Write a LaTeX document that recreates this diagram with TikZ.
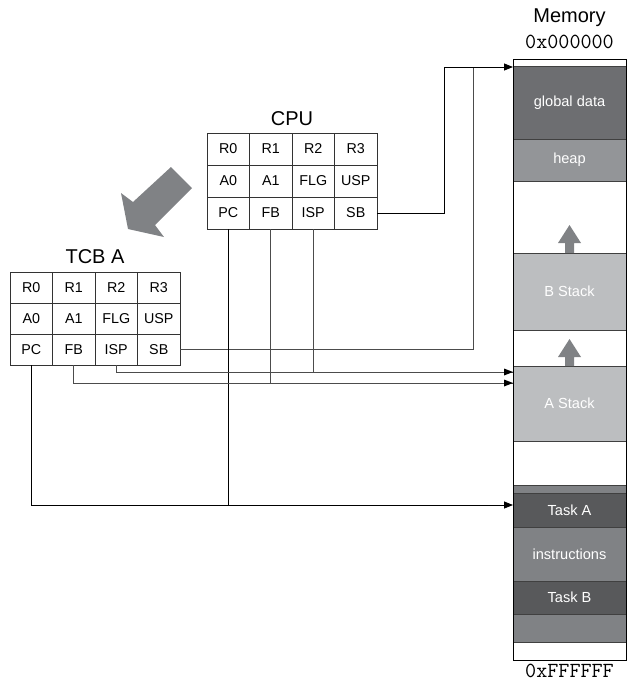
\documentclass[tikz,border=0pt]{standalone}
\usepackage{fontspec}
\setmainfont{Liberation Sans}
\usetikzlibrary{arrows.meta,calc}
\definecolor{gdark}{HTML}{58595B}
\definecolor{gglob}{HTML}{6D6E71}
\definecolor{gmid}{HTML}{808285}
\definecolor{gheap}{HTML}{939598}
\definecolor{glight}{HTML}{BCBEC0}
\begin{document}
\begin{tikzpicture}[x=1pt,y=-1pt,
  cell/.style={draw=black!80, line width=0.7pt, minimum width=42.5pt, minimum height=32pt, inner sep=0pt, font=\fontsize{14.3}{16}\selectfont},
  tcell/.style={cell, minimum height=31pt},
  title/.style={font=\fontsize{20}{22}\selectfont},
  addr/.style={font=\ttfamily\fontsize{21.5}{23}\selectfont},
  memblk/.style={draw=black!75, line width=0.6pt, minimum width=113pt, inner sep=0pt, text=white, font=\fontsize{14.6}{16}\selectfont},
  conn/.style={line width=0.8pt, black},
  gconn/.style={line width=0.8pt, black!70},
  arr/.style={-{Triangle[length=9pt,width=7pt]}},
  bigarrow/.style={fill=gmid, draw=none}]
\useasboundingbox (0,0) rectangle (629,686);

% CPU table
\node[title] (cputitle) at (292,119) {CPU};
\foreach \n/\c/\r in {R0/0/0,R1/1/0,R2/2/0,R3/3/0,A0/0/1,A1/1/1,FLG/2/1,USP/3/1,PC/0/2,FB/1/2,ISP/2/2,SB/3/2}{
  \node[cell] (cpu\n) at ({228.25+42.5*\c},{149+32*\r}) {\n};
}
% TCB A table
\node[title] (tcbtitle) at (95,257) {TCB A};
\foreach \n/\c/\r in {R0/0/0,R1/1/0,R2/2/0,R3/3/0,A0/0/1,A1/1/1,FLG/2/1,USP/3/1,PC/0/2,FB/1/2,ISP/2/2,SB/3/2}{
  \node[tcell] (tcb\n) at ({31.25+42.5*\c},{287.5+31*\r}) {\n};
}

% big arrow
\fill[bigarrow] (171,167) -- (192,188) -- (155,225) -- (164,237) -- (128,229) -- (121,193) -- (133,202) -- cycle;

% memory
\node[title] (memtitle) at (569.5,18) {Memory};
\node[addr] (addrtop) at (569.5,42) {0x000000};
\node[addr] (addrbot) at (569.5,671) {0xFFFFFF};
\node[memblk, fill=gglob, minimum height=73pt] (gd) at (569.5,102.5) {global data};
\node[memblk, fill=gheap, minimum height=42pt] (heap) at (569.5,160) {heap};
\node[memblk, fill=glight, minimum height=77pt] (bst) at (569.5,291.5) {B Stack};
\node[memblk, fill=glight, minimum height=75pt] (ast) at (569.5,403.5) {A Stack};
\node[memblk, fill=gmid, minimum height=8pt] (strip) at (569.5,489) {};
\node[memblk, fill=gdark, minimum height=34pt] (ta) at (569.5,510) {Task A};
\node[memblk, fill=gmid, minimum height=54pt] (ins) at (569.5,554) {instructions};
\node[memblk, fill=gdark, minimum height=33pt] (tb) at (569.5,597.5) {Task B};
\node[memblk, fill=gmid, minimum height=28pt] (bot) at (569.5,628) {};
\node[draw=black, line width=0.8pt, minimum width=113pt, minimum height=601pt, inner sep=0pt] (mem) at (569.5,359.5) {};

% growth arrows
\fill[gmid] (565,253) -- (565,243) -- (558,243) -- (569.5,225) -- (581,243) -- (574,243) -- (574,253) -- cycle;
\fill[gmid] (565,366) -- (565,357) -- (558,357) -- (569.5,339) -- (581,357) -- (574,357) -- (574,366) -- cycle;

% connector coordinates
\coordinate (c1) at (444,67);
\coordinate (c2) at (473,67);
\coordinate (e0) at (513,67);
\coordinate (e1) at (513,372);
\coordinate (e2) at (513,383);
\coordinate (e3) at (513,505);

% connectors
\draw[gconn] (tcbSB.east) -| (c2);
\draw[conn, arr] (cpuSB.east) -| (c1) -- (e0);
\draw[gconn] (cpuISP.south) -- (cpuISP.south |- e1);
\draw[gconn] (cpuFB.south) -- (cpuFB.south |- e2);
\draw[conn] (cpuPC.south) -- (cpuPC.south |- e3);
\draw[gconn] (tcbISP.south) |- (e1);
\draw[gconn] (tcbFB.south) |- (e2);
\draw[conn, arr] (tcbPC.south) |- (e3);
\fill[black] (e1) -- ++(-9,-3.5) -- ++(0,7) -- cycle;
\fill[black] (e2) -- ++(-9,-3.5) -- ++(0,7) -- cycle;
\end{tikzpicture}
\end{document}
